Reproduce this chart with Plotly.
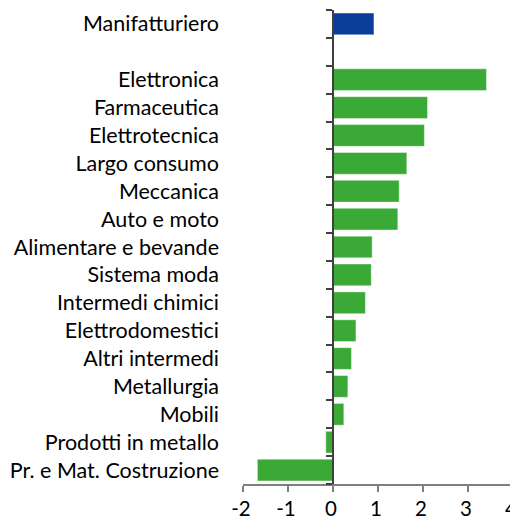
import plotly.graph_objects as go

categories = ["Manifatturiero", "Elettronica", "Farmaceutica", "Elettrotecnica", "Largo consumo",
              "Meccanica", "Auto e moto", "Alimentare e bevande", "Sistema moda", "Intermedi chimici",
              "Elettrodomestici", "Altri intermedi", "Metallurgia", "Mobili", "Prodotti in metallo",
              "Pr. e Mat. Costruzione"]
values = [0.91, 3.41, 2.10, 2.03, 1.64, 1.47, 1.44, 0.87, 0.85, 0.72, 0.51, 0.41, 0.33, 0.24, -0.16, -1.68]
# slot positions: Manifatturiero on top, then a blank slot, then sectors
positions = [16] + list(range(14, -1, -1))
boundaries = [i - 0.5 for i in range(18)]
x_ticks = [-2, -1, 0, 1, 2, 3, 4]

colors = ["#0A3F99"] + ["#3BA936"] * 15

fig = go.Figure()
fig.add_trace(go.Bar(
    x=values, y=positions, orientation="h", width=0.78,
    marker=dict(color=colors, line=dict(color="rgba(255,255,255,0.4)", width=1)),
    showlegend=False, hoverinfo="x+y",
))

font = dict(family="Lato, Carlito, Calibri, sans-serif", size=21.5, color="#000000")
xfont = dict(family="Lato, Carlito, Calibri, sans-serif", size=20.5, color="#000000")

fig.update_layout(
    width=510, height=513,
    margin=dict(l=235, r=5, t=2, b=37),
    plot_bgcolor="white", paper_bgcolor="white",
    font=font,
    xaxis=dict(
        range=[-2, 4], tickvals=x_ticks, ticktext=[str(v) for v in x_ticks],
        showgrid=False, zeroline=False,
        showline=True, linecolor="#7F7F7F", linewidth=1.5,
        ticks="outside", ticklen=6, tickcolor="#7F7F7F", tickwidth=1.5,
        tickfont=xfont, automargin=False, ticklabeloverflow="allow",
        ticklabelshift=-2,
    ),
    yaxis=dict(
        range=[-0.5, 16.5], tickvals=positions, ticktext=categories,
        showgrid=False, zeroline=False, showline=False,
        ticks="", ticklabelstandoff=23, tickfont=font, automargin=False,
    ),
    yaxis2=dict(
        range=[-0.5, 16.5], overlaying="y", anchor="free", position=1/3,
        tickvals=boundaries, showticklabels=False,
        showgrid=False, zeroline=False,
        showline=True, linecolor="#404040", linewidth=1.5,
        ticks="outside", ticklen=6, tickcolor="#404040", tickwidth=1.5,
    ),
)

# invisible trace to activate yaxis2
fig.add_trace(go.Scatter(x=[0], y=[0], yaxis="y2", mode="markers",
                         marker=dict(opacity=0), showlegend=False, hoverinfo="skip"))

fig.write_html("out.html")
